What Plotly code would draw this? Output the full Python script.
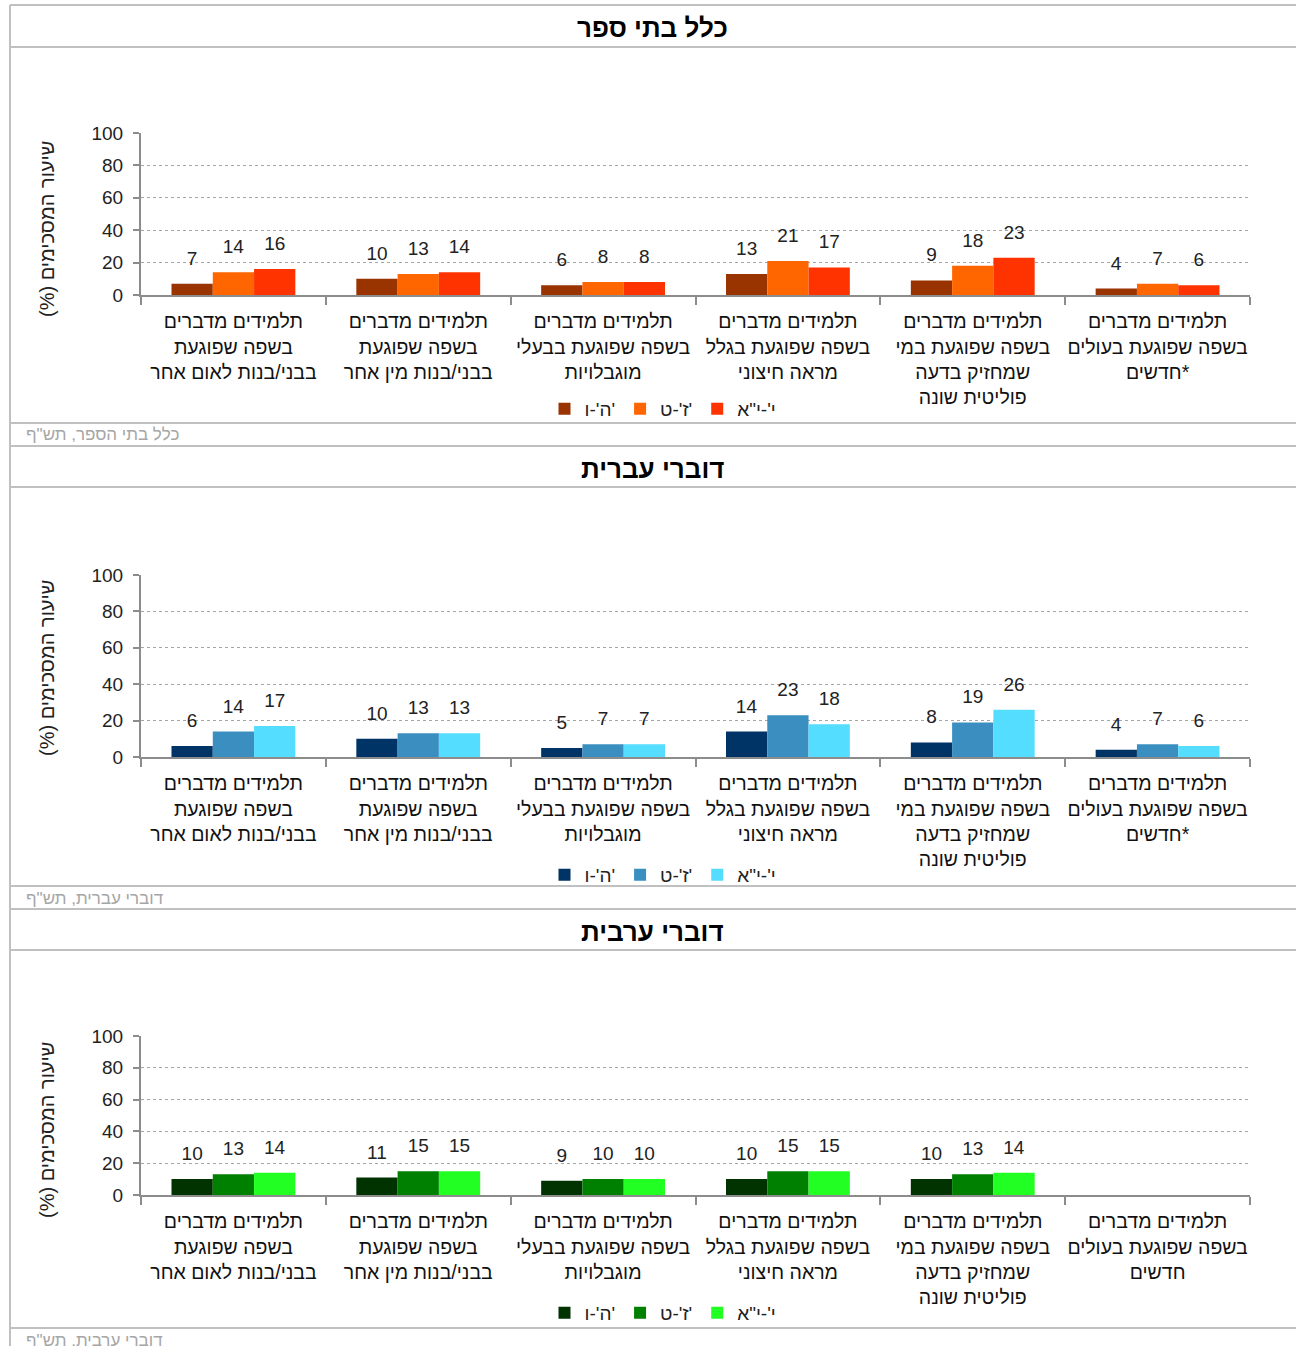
import plotly.graph_objects as go

# ---------------- data ----------------
grades = ["ה'-ו'", "ז'-ט'", "י'-י\"א"]

cats_main = [
    "תלמידים מדברים<br>בשפה שפוגעת<br>בבני/בנות לאום אחר",
    "תלמידים מדברים<br>בשפה שפוגעת<br>בבני/בנות מין אחר",
    "תלמידים מדברים<br>בשפה שפוגעת בבעלי<br>מוגבלויות",
    "תלמידים מדברים<br>בשפה שפוגעת בגלל<br>מראה חיצוני",
    "תלמידים מדברים<br>בשפה שפוגעת במי<br>שמחזיק בדעה<br>פוליטית שונה",
    "תלמידים מדברים<br>בשפה שפוגעת בעולים<br>חדשים*",
]
cats_arabic = cats_main[:5] + ["תלמידים מדברים<br>בשפה שפוגעת בעולים<br>חדשים"]

all_5_6 = [7, 10, 6, 13, 9, 4]
all_7_9 = [14, 13, 8, 21, 18, 7]
all_10_11 = [16, 14, 8, 17, 23, 6]

heb_5_6 = [6, 10, 5, 14, 8, 4]
heb_7_9 = [14, 13, 7, 23, 19, 7]
heb_10_11 = [17, 13, 7, 18, 26, 6]

arb_5_6 = [10, 11, 9, 10, 10, None]
arb_7_9 = [13, 15, 10, 15, 13, None]
arb_10_11 = [14, 15, 10, 15, 14, None]

titles = ["כלל בתי ספר", "דוברי עברית", "דוברי ערבית"]
footers = ["כלל בתי הספר, תש\"ף", "דוברי עברית, תש\"ף", "דוברי ערבית, תש\"ף"]
y_title = "שיעור המסכימים (%)\u200f"
y_ticks = [0, 20, 40, 60, 80, 100]

# ---------------- style ----------------
W, H = 1296, 1346
FONT = "Liberation Sans, DejaVu Sans, sans-serif"
colors = [
    ["#993300", "#FF6600", "#FF3300"],
    ["#003366", "#3A8FC0", "#55DDFF"],
    ["#003300", "#008000", "#22FF22"],
]
# pixel layout of each panel: (y of 0, y of 100, title y, footer y, legend y, ytitle y)
panels_px = [
    (295, 133, 28, 435, 409, 229),
    (757, 575, 469, 898, 875, 668),
    (1195, 1036, 932, 1340, 1313, 1130),
]
sep_lines = [5, 47, 423, 446, 487, 886, 909, 950, 1328]
x_left, x_right = 141, 1250

def px_x(p):
    return p / W

def px_y(p):
    return 1 - p / H

panel_data = [
    (cats_main, [all_5_6, all_7_9, all_10_11]),
    (cats_main, [heb_5_6, heb_7_9, heb_10_11]),
    (cats_arabic, [arb_5_6, arb_7_9, arb_10_11]),
]

fig = go.Figure()
layout = dict(
    width=W, height=H,
    margin=dict(l=0, r=0, t=0, b=0, pad=0, autoexpand=False),
    paper_bgcolor="white", plot_bgcolor="white",
    barmode="group", bargap=0.33, bargroupgap=0,
    font=dict(family=FONT, size=19, color="#222"),
    showlegend=True,
)
annotations = []
shapes = []

for i, (cats, series) in enumerate(panel_data):
    y0, y100, ty, fy, ly, yty = panels_px[i]
    sfx = "" if i == 0 else str(i + 1)
    xa, ya = "x" + sfx, "y" + sfx
    leg = "legend" + sfx
    px_per_unit = (y0 - y100) / 100.0
    pad = 12.0 / px_per_unit
    for j, vals in enumerate(series):
        fig.add_trace(go.Bar(
            x=cats, y=vals, name=grades[j], marker_color=colors[i][j],
            marker_line_width=0, offsetgroup=str(j), xaxis=xa, yaxis=ya,
            legend=leg, showlegend=True, hoverinfo="skip",
        ))
    for j, vals in enumerate(series):
        fig.add_trace(go.Bar(
            x=cats, y=[None if v is None else pad for v in vals], base=vals,
            text=[None if v is None else str(v) for v in vals],
            textposition="outside", cliponaxis=False,
            textfont=dict(size=19, color="#222", family=FONT),
            marker_color="rgba(0,0,0,0)", marker_line_width=0,
            offsetgroup=str(j), xaxis=xa, yaxis=ya, legend=leg,
            showlegend=False, hoverinfo="skip",
        ))
    layout["xaxis" + sfx] = dict(
        domain=[px_x(x_left), px_x(x_right)], anchor=ya,
        type="category", showline=True, linecolor="#8c8c8c", linewidth=2,
        ticks="outside", tickson="boundaries", ticklen=8, tickcolor="#8c8c8c",
        tickwidth=2, showgrid=False, tickfont=dict(size=19.5, color="#111"),
        tickangle=0, ticklabelstandoff=8, automargin=False, fixedrange=True,
    )
    layout["yaxis" + sfx] = dict(
        domain=[px_y(y0), px_y(y100)], anchor=xa, range=[0, 100],
        tickvals=y_ticks, showline=True, linecolor="#8c8c8c", linewidth=2,
        ticks="outside", ticklen=6, tickcolor="#8c8c8c", tickwidth=2,
        showgrid=True, gridcolor="#a6a6a6", griddash="dot", gridwidth=1,
        zeroline=False, tickfont=dict(size=19, color="#222"),
        ticklabelstandoff=6, automargin=False, fixedrange=True,
    )
    layout[leg] = dict(
        orientation="h", x=px_x(663), xanchor="center", y=px_y(ly),
        yanchor="middle", font=dict(size=19, color="#222"),
        bgcolor="rgba(0,0,0,0)", itemwidth=30, traceorder="normal",
    )
    annotations.append(dict(
        text="<b>" + titles[i] + "</b>", x=px_x(652), y=px_y(ty),
        xref="paper", yref="paper", showarrow=False,
        font=dict(size=26, color="#000"), xanchor="center", yanchor="middle",
    ))
    annotations.append(dict(
        text=footers[i], x=px_x(24), y=px_y(fy), xref="paper", yref="paper",
        showarrow=False, font=dict(size=17, color="#a6a6a6"),
        xanchor="left", yanchor="middle",
    ))
    annotations.append(dict(
        text=y_title, x=px_x(47), y=px_y(yty), xref="paper", yref="paper",
        showarrow=False, textangle=-90, font=dict(size=20, color="#222"),
        xanchor="center", yanchor="middle",
    ))

for yy in sep_lines:
    shapes.append(dict(type="line", xref="paper", yref="paper",
                       x0=px_x(10), x1=1, y0=px_y(yy), y1=px_y(yy),
                       line=dict(color="#c0c0c0", width=2)))
shapes.append(dict(type="line", xref="paper", yref="paper",
                   x0=px_x(10), x1=px_x(10), y0=px_y(5), y1=0,
                   line=dict(color="#c0c0c0", width=2)))

layout["annotations"] = annotations
layout["shapes"] = shapes
fig.update_layout(**layout)
fig.write_html(
    "out.html",
    config={"displayModeBar": False},
    post_script="document.body.style.margin='0';document.body.style.overflow='hidden';",
)
